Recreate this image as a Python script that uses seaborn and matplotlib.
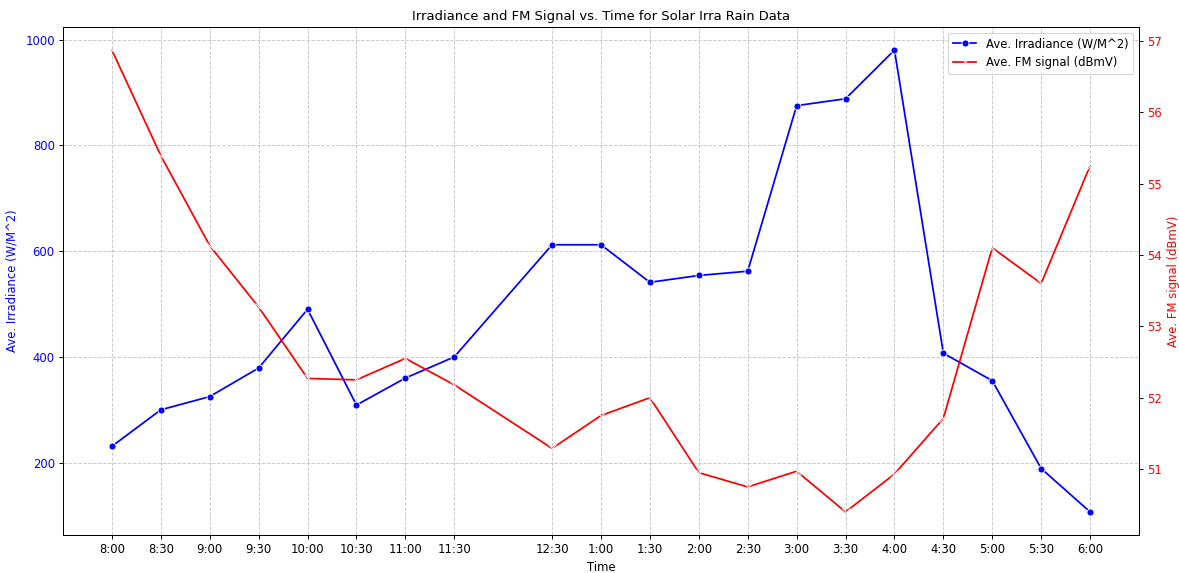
import matplotlib
matplotlib.use("Agg")
import pandas as pd
import matplotlib.pyplot as plt
import seaborn as sns

# time in hours (12:00 has no reading)
hours = [8, 8.5, 9, 9.5, 10, 10.5, 11, 11.5, 12.5, 13, 13.5, 14, 14.5,
         15, 15.5, 16, 16.5, 17, 17.5, 18]
time_labels = ["8:00", "8:30", "9:00", "9:30", "10:00", "10:30", "11:00", "11:30",
               "12:30", "1:00", "1:30", "2:00", "2:30", "3:00", "3:30", "4:00",
               "4:30", "5:00", "5:30", "6:00"]
irradiance = [231, 300, 325, 379, 490, 309, 360, 400, 612, 612, 541, 554, 562,
              875, 888, 980, 407, 355, 189, 107]
fm_signal = [56.87, 55.39, 54.13, 53.27, 52.27, 52.25, 52.55, 52.18, 51.29, 51.75,
             52.00, 50.95, 50.75, 50.97, 50.40, 50.93, 51.71, 54.10, 53.60, 55.25]

df = pd.DataFrame({"Hour": hours, "Irradiance": irradiance, "FM": fm_signal})

dpi = 1179 / 14
fig, ax1 = plt.subplots(figsize=(14, 573 / dpi), dpi=dpi)

sns.lineplot(data=df, x="Hour", y="Irradiance", marker="o", color="blue",
             label="Ave. Irradiance (W/M^2)", ax=ax1, legend=False)
ax1.set_xlabel("Time")
ax1.set_ylabel("Ave. Irradiance (W/M^2)", color="blue", labelpad=6)
ax1.tick_params(axis="y", labelcolor="blue")
ax1.set_xticks(hours)
ax1.set_xticklabels(time_labels)
ax1.grid(True, linestyle="--", alpha=0.7)

ax2 = ax1.twinx()
sns.lineplot(data=df, x="Hour", y="FM", marker="x", color="red",
             label="Ave. FM signal (dBmV)", ax=ax2, legend=False)
ax2.set_ylabel("Ave. FM signal (dBmV)", color="red")
ax2.tick_params(axis="y", labelcolor="red")

# one legend for both lines
h1, l1 = ax1.get_legend_handles_labels()
h2, l2 = ax2.get_legend_handles_labels()
ax2.legend(h1 + h2, l1 + l2, loc="upper right")

plt.title("Irradiance and FM Signal vs. Time for Solar Irra Rain Data", fontsize=11.2)
fig.subplots_adjust(left=63 / 1179, right=1139 / 1179, top=1 - 27 / 573, bottom=1 - 535 / 573)
plt.savefig("out.png", dpi=dpi)
